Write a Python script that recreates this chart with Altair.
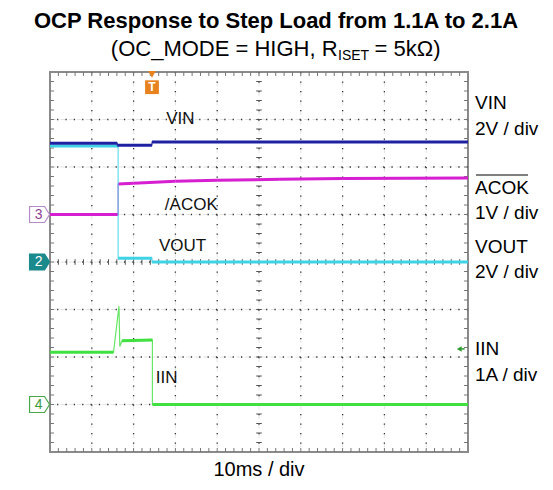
import altair as alt
import pandas as pd
import numpy as np

FONT = "Liberation Sans"

# ---- traces: time in ms (10 ms/div), values in physical units ----
vin_t = [0, 16.1, 16.1, 24.4, 24.4, 100]
vin_v = [5.0, 5.0, 4.92, 4.92, 5.05, 5.05]
vout_t = [0, 16.3, 16.3, 24.4, 24.4, 100]
vout_v = [4.88, 4.88, 0.16, 0.16, 0.0, 0.0]
acok_t = [0, 16.3, 16.3, 20, 30, 40, 55, 70, 100]
acok_v = [0.0, 0.0, 0.64, 0.66, 0.70, 0.72, 0.74, 0.76, 0.77]
iin_t = [0, 15.2, 16.5, 16.7, 17.2, 24.5, 24.5, 100]
iin_v = [1.10, 1.10, 2.07, 1.22, 1.34, 1.36, 0.0, 0.0]

# channel: (units per div, ground position in divisions, colour)
channels = {
    "IIN": (1.0, 1.0, "#3fe03f", iin_t, iin_v),
    "ACOK": (1.0, 5.0, "#d61fd0", acok_t, acok_v),
    "VOUT": (2.0, 4.0, "#3fd3e6", vout_t, vout_v),
    "VIN": (2.0, 4.0, "#1e22a2", vin_t, vin_v),
}

trigger_t = 24.4
iin_trigger_level = 1.17

W, H = 418, 380
xs = alt.Scale(domain=[0, 100], nice=False, zero=False)
ys = alt.Scale(domain=[0, 8], nice=False, zero=False)


def X(f="x"):
    return alt.X(f, type="quantitative", scale=xs, axis=None)


def Y(f="y"):
    return alt.Y(f, type="quantitative", scale=ys, axis=None)


layers = []

# ---- graticule ----
vgrid = pd.DataFrame({"x": [10, 20, 30, 40, 50, 60, 70, 80, 90]})
hgrid = pd.DataFrame({"y": [1, 2, 3, 4, 5, 6, 7]})
layers.append(alt.Chart(vgrid).mark_rule(color="#e4e4e4", strokeWidth=1, strokeDash=[5, 4.5]).encode(x=X("x")))
layers.append(alt.Chart(hgrid).mark_rule(color="#e4e4e4", strokeWidth=1, strokeDash=[4.5, 3.9]).encode(y=Y("y")))
layers.append(alt.Chart(vgrid).mark_rule(color="#333", strokeWidth=1.3, strokeDash=[1.3, 8.2]).encode(x=X("x")))
layers.append(alt.Chart(hgrid).mark_rule(color="#333", strokeWidth=1.3, strokeDash=[1.3, 7.06]).encode(y=Y("y")))

minor_x = pd.DataFrame({"x": np.arange(2, 100, 2.0)})
minor_y = pd.DataFrame({"y": np.arange(0.2, 8, 0.2)})
tx = 4 / (W / 100.0)
ty = 4 / (H / 8.0)
# edge ticks
layers.append(alt.Chart(minor_x).mark_rule(color="#777").encode(x=X("x"), y=alt.datum(8, scale=ys, axis=None), y2=alt.datum(8 - ty)))
layers.append(alt.Chart(minor_x).mark_rule(color="#777").encode(x=X("x"), y=alt.datum(0, scale=ys, axis=None), y2=alt.datum(ty)))
layers.append(alt.Chart(minor_y).mark_rule(color="#777").encode(y=Y("y"), x=alt.datum(0, scale=xs, axis=None), x2=alt.datum(tx)))
layers.append(alt.Chart(minor_y).mark_rule(color="#777").encode(y=Y("y"), x=alt.datum(100, scale=xs, axis=None), x2=alt.datum(100 - tx)))
# centre cross ticks
layers.append(alt.Chart(minor_x).mark_rule(color="#555").encode(x=X("x"), y=alt.datum(4 - 0.7 * ty, scale=ys, axis=None), y2=alt.datum(4 + 0.7 * ty)))
layers.append(alt.Chart(minor_y).mark_rule(color="#555").encode(y=Y("y"), x=alt.datum(50 - 0.7 * tx, scale=xs, axis=None), x2=alt.datum(50 + 0.7 * tx)))

# ---- traces ----
for name, (per_div, ground, col, ts, vs) in channels.items():
    df = pd.DataFrame({"x": ts, "y": [ground + v / per_div for v in vs], "i": range(len(ts))})
    layers.append(alt.Chart(df).mark_line(color=col, strokeWidth=1.2, opacity=0.8).encode(x=X("x"), y=Y("y"), order="i:Q"))
    seg = pd.DataFrame({"x": df["x"].values[:-1], "x2": df["x"].values[1:],
                        "y": df["y"].values[:-1], "y2": df["y"].values[1:]})
    seg = seg[(seg["x2"] - seg["x"]) > 1.5]
    layers.append(alt.Chart(seg).mark_rule(color=col, strokeWidth=3).encode(
        x=X("x"), x2="x2", y=Y("y"), y2="y2"))

# ---- channel ground markers ----
marker_path = "M-1,-0.8L0.5,-0.8L1,0L0.5,0.8L-1,0.8Z"
markers = [
    ("3", 5.0, "white", "#b58cc8", "#8e3f95"),
    ("2", 4.0, "#1b8a8c", "#1b8a8c", "white"),
    ("4", 1.0, "white", "#4aa84a", "#3a9a3a"),
]
for lab, d, fill, stroke, tcol in markers:
    mdf = pd.DataFrame({"x": [-2.5], "y": [d], "t": [lab]})
    layers.append(alt.Chart(mdf).mark_point(shape=marker_path, size=400, filled=True, fill=fill,
                                            stroke=stroke, strokeWidth=1.2, opacity=1).encode(x=X("x"), y=Y("y")))
    layers.append(alt.Chart(mdf).mark_text(font=FONT, fontSize=14, color=tcol, dx=-1).encode(x=X("x"), y=Y("y"), text="t:N"))

# trigger marker
tdf = pd.DataFrame({"x": [trigger_t], "y": [7.95], "y2": [7.68], "t": ["T"]})
layers.append(alt.Chart(tdf).mark_point(shape="triangle-down", size=60, filled=True, color="#e8821e", opacity=1).encode(x=X("x"), y=Y("y")))
layers.append(alt.Chart(tdf).mark_point(shape="square", size=190, filled=True, color="#e8821e", opacity=1).encode(x=X("x"), y=Y("y2")))
layers.append(alt.Chart(tdf).mark_text(font=FONT, fontSize=12, fontWeight="bold", color="white").encode(x=X("x"), y=Y("y2"), text="t:N"))

# IIN trigger level arrow
lv = 1.0 + iin_trigger_level / 1.0
adf = pd.DataFrame({"x": [97.9], "x2": [99.2], "y": [lv]})
layers.append(alt.Chart(adf).mark_point(shape="triangle-left", size=30, filled=True, color="#2f9a2f", opacity=1).encode(x=X("x"), y=Y("y")))
layers.append(alt.Chart(adf).mark_rule(color="#2f9a2f", strokeWidth=1.5).encode(x=X("x"), x2="x2", y=Y("y")))

# ---- in-plot labels ----
inner = pd.DataFrame({
    "t": ["VIN", "/ACOK", "VOUT", "IIN"],
    "x": [31.2, 33.8, 31.7, 27.9],
    "y": [7.02, 5.2, 4.33, 1.55],
})
layers.append(alt.Chart(inner).mark_text(font=FONT, fontSize=17, color="#111").encode(x=X("x"), y=Y("y"), text="t:N"))


def txt(s, x, y, size, weight="normal", align="left", baseline="middle", dy=0):
    return alt.Chart(pd.DataFrame({"t": [s]})).mark_text(
        font=FONT, fontSize=size, fontWeight=weight, color="black", align=align, baseline=baseline, dy=dy
    ).encode(text="t:N", x=alt.value(x), y=alt.value(y))


RX = W + 7
right_labels = [("VIN", 31), ("2V / div", 57), ("ACOK", 116), ("1V / div", 141),
                ("VOUT", 175), ("2V / div", 200), ("IIN", 277), ("1A / div", 303)]
for s, yy in right_labels:
    layers.append(txt(s, RX, yy, 19))
# overline for ACOK
layers.append(alt.Chart(pd.DataFrame({"a": [0]})).mark_rule(color="black", strokeWidth=1.2).encode(
    x=alt.value(RX + 1), x2=alt.value(RX + 53), y=alt.value(103)))

# titles
layers.append(txt("OCP Response to Step Load from 1.1A to 2.1A", 226, -51, 22, weight="bold", align="center"))
layers.append(txt("(OC_MODE = HIGH, R", 287.6, -16, 22, align="right", baseline="alphabetic"))
layers.append(txt("ISET", 288, -16, 14, align="left", baseline="alphabetic", dy=4))
layers.append(txt("= 5k\u03a9)", 324.5, -16, 22, align="left", baseline="alphabetic"))
layers.append(txt("10ms / div", W / 2, H + 18, 20, align="center"))

chart = alt.layer(*layers).properties(
    width=W, height=H,
    autosize=alt.AutoSizeParams(type="none"),
    padding={"left": 42, "top": 64, "right": 77, "bottom": 30},
).configure_view(stroke="#8a8a8a", strokeWidth=2)

chart.save("out.html", embed_options={"renderer": "svg", "actions": False})
